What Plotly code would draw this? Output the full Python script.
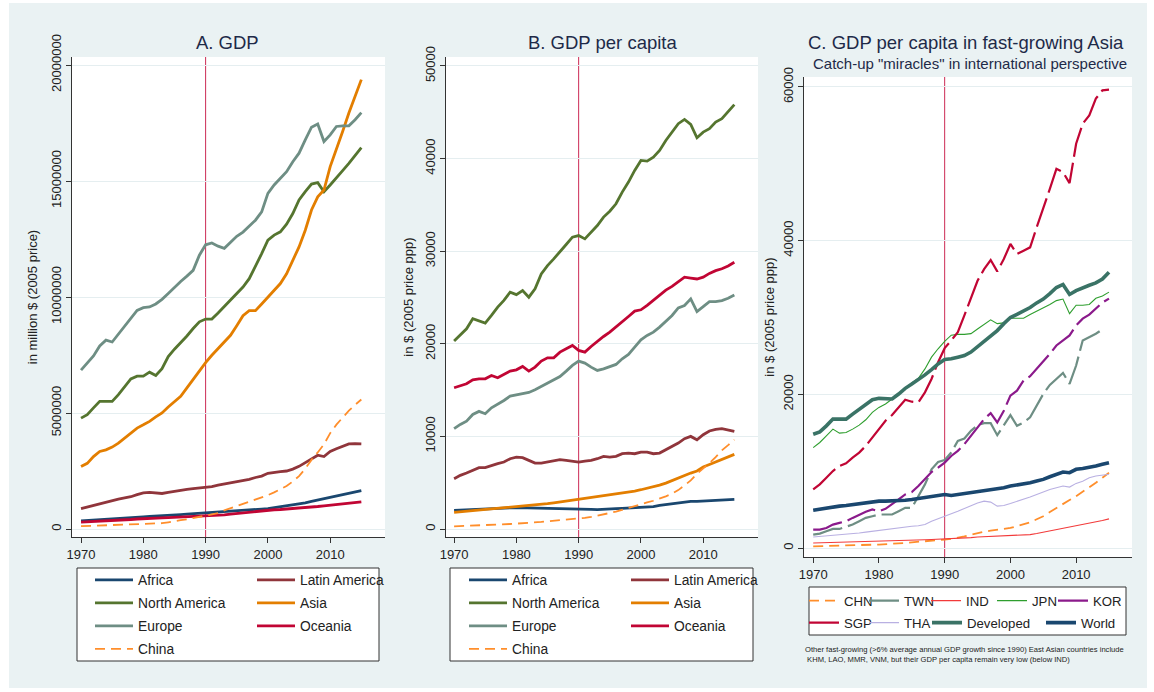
import plotly.graph_objects as go

W, H = 1154, 692
FONT = "Liberation Sans, Arial, sans-serif"

years = list(range(1970, 2016))

# ---------------- Panel A: GDP (values in million $, stored in units of 1e6 million) --------------
GDP_UNIT = 1_000_000
gdp_africa = [0.35, 0.37, 0.39, 0.41, 0.43, 0.44, 0.46, 0.47, 0.49, 0.51,
              0.52, 0.54, 0.55, 0.57, 0.58, 0.60, 0.62, 0.64, 0.66, 0.69,
              0.71, 0.72, 0.73, 0.74, 0.76, 0.78, 0.80, 0.82, 0.84, 0.86,
              0.88, 0.92, 0.95, 0.99, 1.03, 1.08, 1.13, 1.19, 1.25, 1.29,
              1.36, 1.41, 1.47, 1.53, 1.59, 1.65]
gdp_latam = [0.88, 0.95, 1.03, 1.10, 1.16, 1.24, 1.29, 1.34, 1.39, 1.48,
             1.56, 1.58, 1.56, 1.53, 1.58, 1.63, 1.67, 1.71, 1.74, 1.76,
             1.78, 1.83, 1.89, 1.94, 2.00, 2.04, 2.08, 2.14, 2.22, 2.28,
             2.40, 2.45, 2.47, 2.50, 2.58, 2.70, 2.85, 3.00, 3.18, 3.12,
             3.34, 3.46, 3.55, 3.67, 3.68, 3.67]
gdp_namerica = [4.78, 4.93, 5.22, 5.50, 5.50, 5.50, 5.79, 6.13, 6.47, 6.59,
                6.59, 6.76, 6.62, 6.91, 7.43, 7.75, 8.03, 8.32, 8.64, 8.93,
                9.05, 9.05, 9.31, 9.60, 9.85, 10.14, 10.43, 10.79, 11.30, 11.87,
                12.45, 12.67, 12.81, 13.14, 13.60, 14.18, 14.54, 14.87, 14.93, 14.54,
                14.83, 15.12, 15.45, 15.76, 16.12, 16.44]
gdp_asia = [2.69, 2.83, 3.12, 3.34, 3.41, 3.53, 3.70, 3.92, 4.13, 4.35,
            4.49, 4.64, 4.83, 5.00, 5.26, 5.50, 5.72, 6.08, 6.45, 6.81,
            7.17, 7.49, 7.77, 8.06, 8.35, 8.76, 9.19, 9.41, 9.41, 9.70,
            10.00, 10.29, 10.58, 11.00, 11.58, 12.16, 12.88, 13.75, 14.32, 14.61,
            15.62, 16.34, 17.13, 17.93, 18.65, 19.37]
gdp_europe = [6.85, 7.14, 7.46, 7.89, 8.14, 8.06, 8.40, 8.76, 9.12, 9.42,
              9.54, 9.57, 9.70, 9.90, 10.15, 10.43, 10.67, 10.90, 11.15, 11.80,
              12.25, 12.33, 12.19, 12.10, 12.38, 12.62, 12.80, 13.05, 13.31, 13.67,
              14.47, 14.83, 15.12, 15.40, 15.83, 16.20, 16.77, 17.32, 17.46, 16.70,
              16.99, 17.35, 17.38, 17.38, 17.64, 17.95]
gdp_oceania = [0.30, 0.31, 0.33, 0.34, 0.35, 0.36, 0.38, 0.39, 0.41, 0.43,
               0.45, 0.46, 0.47, 0.48, 0.49, 0.50, 0.51, 0.52, 0.53, 0.54,
               0.55, 0.57, 0.59, 0.61, 0.64, 0.67, 0.70, 0.73, 0.76, 0.79,
               0.81, 0.83, 0.84, 0.86, 0.87, 0.88, 0.91, 0.94, 0.97, 1.00,
               1.03, 1.06, 1.09, 1.12, 1.14, 1.17]
gdp_china = [0.12, 0.13, 0.14, 0.15, 0.16, 0.16, 0.17, 0.18, 0.19, 0.20,
             0.20, 0.21, 0.23, 0.25, 0.29, 0.35, 0.38, 0.42, 0.47, 0.50,
             0.55, 0.60, 0.68, 0.80, 0.89, 0.98, 1.08, 1.18, 1.27, 1.36,
             1.46, 1.58, 1.70, 1.85, 2.05, 2.28, 2.60, 2.98, 3.30, 3.65,
             4.13, 4.50, 4.80, 5.10, 5.35, 5.58]

# ---------------- Panel B: GDP per capita ($, 2005 ppp) ----------------
pc_africa = [2010, 2050, 2090, 2130, 2160, 2190, 2220, 2250, 2270, 2290,
             2300, 2290, 2260, 2230, 2200, 2190, 2190, 2190, 2200, 2200,
             2190, 2160, 2120, 2090, 2100, 2160, 2190, 2220, 2250, 2270,
             2300, 2350, 2420, 2550, 2640, 2730, 2820, 2920, 2990, 2990,
             3020, 3040, 3060, 3090, 3150, 3200]
pc_latam = [5430, 5790, 6040, 6330, 6620, 6620, 6870, 7050, 7230, 7590,
            7770, 7700, 7410, 7120, 7120, 7230, 7410, 7480, 7410, 7340,
            7230, 7340, 7410, 7590, 7840, 7770, 7840, 8130, 8200, 8130,
            8310, 8310, 8130, 8200, 8560, 8850, 9280, 9750, 10000, 9640,
            10180, 10580, 10760, 10830, 10720, 10540]
pc_namerica = [20290, 20900, 21620, 22700, 22450, 22230, 23060, 23960, 24680, 25570,
               25310, 25750, 25030, 25930, 27550, 28450, 29170, 29890, 30720, 31510,
               31690, 31330, 32050, 32770, 33680, 34320, 35120, 36380, 37460, 38720,
               39800, 39730, 40160, 40880, 41960, 42860, 43770, 44230, 43690, 42250,
               42860, 43230, 43950, 44310, 45030, 45820]
pc_asia = [1800, 1860, 1920, 1980, 2030, 2090, 2140, 2200, 2260, 2320,
           2370, 2430, 2490, 2560, 2640, 2730, 2820, 2920, 3020, 3100,
           3170, 3260, 3350, 3450, 3570, 3690, 3810, 3900, 3990, 4100,
           4240, 4380, 4530, 4740, 4960, 5250, 5540, 5790, 6040, 6260,
           6690, 6960, 7230, 7480, 7770, 8060]
pc_europe = [10830, 11290, 11650, 12370, 12700, 12450, 13090, 13450, 13880, 14350,
             14500, 14680, 14750, 15040, 15400, 15760, 16120, 16470, 17050, 17660,
             18130, 17910, 17480, 17120, 17300, 17550, 17770, 18380, 18850, 19640,
             20430, 20900, 21260, 21800, 22450, 23060, 23880, 24130, 24850, 23480,
             24020, 24560, 24560, 24670, 24920, 25280]
pc_oceania = [15250, 15500, 15680, 16110, 16220, 16220, 16580, 16330, 16690, 17050,
              17190, 17550, 17050, 17480, 18130, 18490, 18490, 19100, 19460, 19820,
              19280, 19100, 19710, 20290, 20790, 21260, 21800, 22340, 22950, 23530,
              23670, 24140, 24680, 25300, 25800, 26200, 26700, 27200, 27100, 27000,
              27200, 27600, 27900, 28100, 28400, 28800]
pc_china = [290, 310, 330, 350, 370, 400, 420, 450, 500, 540,
            580, 610, 650, 700, 760, 830, 880, 940, 1000, 1050,
            1120, 1200, 1300, 1470, 1600, 1730, 1880, 2090, 2260, 2450,
            2660, 2870, 3050, 3270, 3530, 3810, 4200, 4710, 5250, 5970,
            6510, 7100, 7770, 8490, 9050, 9640]

# ---------------- Panel C: GDP per capita, fast-growing Asia ----------------
c_chn = [220, 250, 280, 310, 350, 390, 400, 410, 420, 430,
         440, 480, 530, 590, 660, 740, 800, 860, 930, 1010,
         1090, 1200, 1320, 1500, 1730, 1960, 2110, 2260, 2400, 2500,
         2610, 2850, 3100, 3350, 3740, 4140, 4680, 5230, 5790, 6250,
         6750, 7300, 7840, 8500, 9150, 9800]
c_twn = [1740, 1870, 2180, 2480, 2480, 2750, 3050, 3490, 3920, 4140,
         4360, 4360, 4360, 4790, 5230, 5230, 6750, 8280, 10240, 11200,
         11460, 12420, 13940, 14250, 15250, 15990, 16250, 16250, 14680, 15990,
         17300, 15900, 16340, 17000, 18520, 20040, 21220, 22000, 22790, 21350,
         23750, 27010, 27450, 27890, 28450, None]
c_ind = [650, 670, 680, 700, 720, 740, 760, 790, 810, 840,
         870, 890, 920, 950, 970, 1000, 1030, 1070, 1110, 1150,
         1180, 1180, 1180, 1260, 1350, 1440, 1480, 1520, 1560, 1590,
         1610, 1650, 1690, 1740, 1880, 2050, 2220, 2400, 2520, 2680,
         2830, 3000, 3170, 3350, 3570, 3790]
c_jpn = [13070, 13730, 14600, 15470, 14950, 15030, 15470, 15990, 16690, 17650,
         18300, 18740, 19390, 20040, 20780, 21480, 22090, 23310, 24840, 25930,
         26900, 27700, 27800, 27800, 27900, 28500, 29100, 29700, 29200, 29300,
         29900, 29900, 29900, 30400, 30800, 31200, 31700, 32200, 32400, 30500,
         31600, 31600, 31700, 32500, 32800, 33300]
c_kor = [2400, 2400, 2610, 3050, 3270, 3490, 3920, 4360, 4710, 5010,
         4790, 5100, 5660, 6320, 6970, 7280, 8060, 8930, 9890, 10460,
         11110, 11980, 12640, 13510, 14600, 15690, 16780, 17560, 16340, 17860,
         19830, 20480, 21790, 22350, 23310, 24180, 25270, 26360, 27010, 27670,
         28980, 29850, 30370, 31150, 31940, 32460]
c_sgp = [7620, 8280, 9150, 10020, 10670, 11020, 11760, 12420, 13290, 14380,
         15470, 16560, 17300, 18300, 19300, 19040, 18950, 20260, 22000, 24180,
         26010, 27010, 28100, 30280, 32600, 34780, 36300, 37480, 36000, 37610,
         39570, 38260, 38700, 39130, 41740, 44130, 46740, 49350, 48910, 47480,
         52610, 55220, 56300, 58480, 59570, 59650]
c_tha = [1440, 1500, 1560, 1620, 1680, 1740, 1850, 1960, 2070, 2190,
         2310, 2400, 2500, 2600, 2710, 2830, 2900, 3050, 3490, 3800,
         4140, 4450, 4790, 5150, 5530, 5850, 6100, 5970, 5450, 5530,
         5790, 6050, 6320, 6650, 6970, 7300, 7620, 7850, 8060, 7930,
         8410, 8700, 9150, 9370, 9480, 9590]
c_developed = [14810, 15120, 15900, 16780, 16780, 16780, 17430, 18080, 18740, 19300,
               19480, 19480, 19390, 20040, 20780, 21350, 21920, 22530, 23220, 23960,
               24530, 24620, 24840, 25050, 25500, 26200, 26900, 27600, 28300, 29200,
               30000, 30400, 30800, 31300, 31900, 32400, 33100, 33900, 34300, 33000,
               33500, 33900, 34200, 34500, 35000, 35900]
c_world = [4920, 5080, 5230, 5380, 5450, 5530, 5650, 5760, 5880, 5990,
           6100, 6100, 6100, 6100, 6210, 6320, 6430, 6550, 6670, 6820,
           6970, 6840, 6970, 7100, 7190, 7280, 7450, 7620, 7730, 7840,
           8060, 8170, 8280, 8500, 8710, 8930, 9280, 9590, 9890, 9800,
           10240, 10350, 10460, 10680, 10900, 11110]

# ---------------- text ----------------
title_a = "A. GDP"
title_b = "B. GDP per capita"
title_c = "C. GDP per capita in fast-growing Asia"
subtitle_c = 'Catch-up "miracles" in international perspective'
ytitle_a = "in million $ (2005 price)"
ytitle_b = "in $ (2005 price ppp)"
ytitle_c = "in $ (2005 price ppp)"
note_c = ("Other fast-growing (>6% average annual GDP growth since 1990) East Asian countries include<br>"
          " KHM, LAO, MMR, VNM, but their GDP per capita remain very low (below IND)")
xticks = [1970, 1980, 1990, 2000, 2010]
marker_year = 1990

# ---------------- styles ----------------
C_AFR, C_LAT, C_NAM, C_ASI, C_EUR, C_OCE, C_CHN = (
    "#1A476F", "#90353B", "#55752F", "#E37E00", "#6E8E84", "#C10534", "#FF8E2B")

regions = [
    ("Africa", gdp_africa, pc_africa, dict(color=C_AFR, width=2.8)),
    ("Latin America", gdp_latam, pc_latam, dict(color=C_LAT, width=2.8)),
    ("North America", gdp_namerica, pc_namerica, dict(color=C_NAM, width=2.8)),
    ("Asia", gdp_asia, pc_asia, dict(color=C_ASI, width=2.8)),
    ("Europe", gdp_europe, pc_europe, dict(color=C_EUR, width=2.8)),
    ("Oceania", gdp_oceania, pc_oceania, dict(color=C_OCE, width=2.8)),
    ("China", gdp_china, pc_china, dict(color=C_CHN, width=1.8, dash="10px,6px")),
]
asia = [
    ("CHN", c_chn, dict(color=C_CHN, width=1.8, dash="10px,6px")),
    ("TWN", c_twn, dict(color="#6E8E84", width=2.2, dash="30px,6px")),
    ("IND", c_ind, dict(color="#F23A3A", width=1.1)),
    ("JPN", c_jpn, dict(color="#2E9E2E", width=1.1)),
    ("KOR", c_kor, dict(color="#8B1A8B", width=2.2, dash="30px,6px")),
    ("SGP", c_sgp, dict(color="#C10534", width=2.2, dash="30px,6px")),
    ("THA", c_tha, dict(color="#B9B0E2", width=1.1)),
    ("Developed", c_developed, dict(color="#3A7366", width=3.6)),
    ("World", c_world, dict(color="#1A476F", width=3.6)),
]

def fx(px):
    return px / W

def fy(py):
    return 1 - py / H

fig = go.Figure()
legends = {}
leg_count = [0]

def new_legend(text_x, row_y, itemwidth, size):
    leg_count[0] += 1
    n = leg_count[0]
    key = "legend" if n == 1 else f"legend{n}"
    legends[key] = dict(
        x=fx(text_x - (itemwidth + 10)), y=fy(row_y), xanchor="left", yanchor="middle",
        bgcolor="rgba(0,0,0,0)", borderwidth=0, itemwidth=itemwidth,
        font=dict(family=FONT, size=size, color="#222222"),
        itemclick=False, itemdoubleclick=False)
    return key

# legend slot layout (text start x, row y) for A and B panels
rows_ab = [580, 603, 626, 649]
slots_a = [(138, rows_ab[0]), (300, rows_ab[0]), (138, rows_ab[1]), (300, rows_ab[1]),
           (138, rows_ab[2]), (300, rows_ab[2]), (138, rows_ab[3])]
slots_b = [(512, rows_ab[0]), (674, rows_ab[0]), (512, rows_ab[1]), (674, rows_ab[1]),
           (512, rows_ab[2]), (674, rows_ab[2]), (512, rows_ab[3])]
slots_c = [(844, 601), (904, 601), (966, 601), (1032, 601), (1093, 601),
           (844, 623), (904, 623), (967, 623), (1081, 623)]

for (name, g, pc, ln), sa, sb in zip(regions, slots_a, slots_b):
    la = new_legend(sa[0], sa[1], 38, 13.8)
    fig.add_trace(go.Scatter(x=years, y=[v * GDP_UNIT for v in g], name=name, mode="lines",
                             line=ln, xaxis="x", yaxis="y", legend=la))
    lb = new_legend(sb[0], sb[1], 38, 13.8)
    fig.add_trace(go.Scatter(x=years, y=pc, name=name, mode="lines",
                             line=ln, xaxis="x2", yaxis="y2", legend=lb))

for (name, vals, ln), sc in zip(asia, slots_c):
    lc = new_legend(sc[0], sc[1], 30, 13.2)
    fig.add_trace(go.Scatter(x=years, y=vals, name=name, mode="lines",
                             line=ln, xaxis="x3", yaxis="y3", legend=lc, connectgaps=False))

# ---------------- axes ----------------
def xax(dom, rng, anchor):
    return dict(domain=dom, range=rng, anchor=anchor, tickvals=xticks, showgrid=False,
                zeroline=False, showline=True, linecolor="#333333", linewidth=1,
                ticks="outside", ticklen=5, tickcolor="#333333", automargin=False,
                tickfont=dict(family=FONT, size=13, color="#222222"))

def yax(dom, rng, anchor, dtick, title, standoff):
    return dict(domain=dom, range=rng, anchor=anchor, dtick=dtick, tick0=0, tickformat="d",
                showgrid=True, gridcolor="#E5EEF0", gridwidth=1, zeroline=False,
                showline=True, linecolor="#333333", linewidth=1, automargin=False,
                ticks="outside", ticklen=5, tickcolor="#333333", tickangle=-90,
                tickfont=dict(family=FONT, size=13, color="#222222"),
                title=dict(text=title, standoff=standoff,
                           font=dict(family=FONT, size=13, color="#222222")))

ydom_ab = [fy(537), fy(57)]
ydom_c = [fy(557), fy(77)]

layout = dict(
    width=W, height=H, margin=dict(l=0, r=0, t=0, b=0, autoexpand=False),
    paper_bgcolor="#EAF2F3", plot_bgcolor="#FFFFFF",
    font=dict(family=FONT, size=13, color="#222222"),
    xaxis=xax([fx(72), fx(385)], [1968.55, 2018.8], "y"),
    yaxis=yax(ydom_ab, [-345000, 20345000], "x", 5000000, ytitle_a, 8),
    xaxis2=xax([fx(446), fx(758)], [1968.7, 2018.8], "y2"),
    yaxis2=yax(ydom_ab, [-864, 50970], "x2", 10000, ytitle_b, 6),
    xaxis3=xax([fx(804), fx(1132)], [1968.6, 2018.5], "y3"),
    yaxis3=yax(ydom_c, [-1170, 61300], "x3", 20000, ytitle_c, 3),
    showlegend=True,
)
layout.update(legends)
fig.update_layout(**layout)

# 1990 marker lines
for xr, yr in [("x", "y domain"), ("x2", "y2 domain"), ("x3", "y3 domain")]:
    fig.add_shape(type="line", xref=xr, yref=yr, x0=marker_year, x1=marker_year, y0=0, y1=1,
                  line=dict(color="#CC2B55", width=1), layer="below")

# legend boxes
for x0, y0, x1, y1 in [(77, 568, 379, 661), (450, 568, 753, 661), (809, 587, 1126, 635)]:
    fig.add_shape(type="rect", xref="paper", yref="paper", x0=fx(x0), x1=fx(x1),
                  y0=fy(y1), y1=fy(y0), line=dict(color="#333333", width=1),
                  fillcolor="#FFFFFF", layer="below")

# white outer border strips
for x0, y0, x1, y1 in [(0, 0, 9, H), (0, 0, W, 3), (W - 7, 0, W, H), (0, H - 4, W, H)]:
    fig.add_shape(type="rect", xref="paper", yref="paper", x0=fx(x0), x1=fx(x1),
                  y0=fy(y1), y1=fy(y0), line=dict(width=0), fillcolor="#FFFFFF", layer="above")

# titles
ann = [
    dict(text=title_a, x=fx(227), y=fy(43), size=18.5, color="#1E2A48"),
    dict(text=title_b, x=fx(602), y=fy(43), size=18.5, color="#1E2A48"),
    dict(text=title_c, x=fx(966), y=fy(43), size=18.5, color="#1E2A48"),
    dict(text=subtitle_c, x=fx(970), y=fy(63), size=15, color="#1E2A48"),
]
for a in ann:
    fig.add_annotation(text=a["text"], x=a["x"], y=a["y"], xref="paper", yref="paper",
                       xanchor="center", yanchor="middle", showarrow=False,
                       font=dict(family=FONT, size=a["size"], color=a["color"]))

fig.add_annotation(text=note_c, x=fx(803), y=fy(654), xref="paper", yref="paper",
                   xanchor="left", yanchor="middle", align="left", showarrow=False,
                   font=dict(family=FONT, size=7.6, color="#222222"))

fig.write_html("out.html",
               config={"displayModeBar": False},
               post_script="document.body.style.margin='0';document.body.style.padding='0';")
